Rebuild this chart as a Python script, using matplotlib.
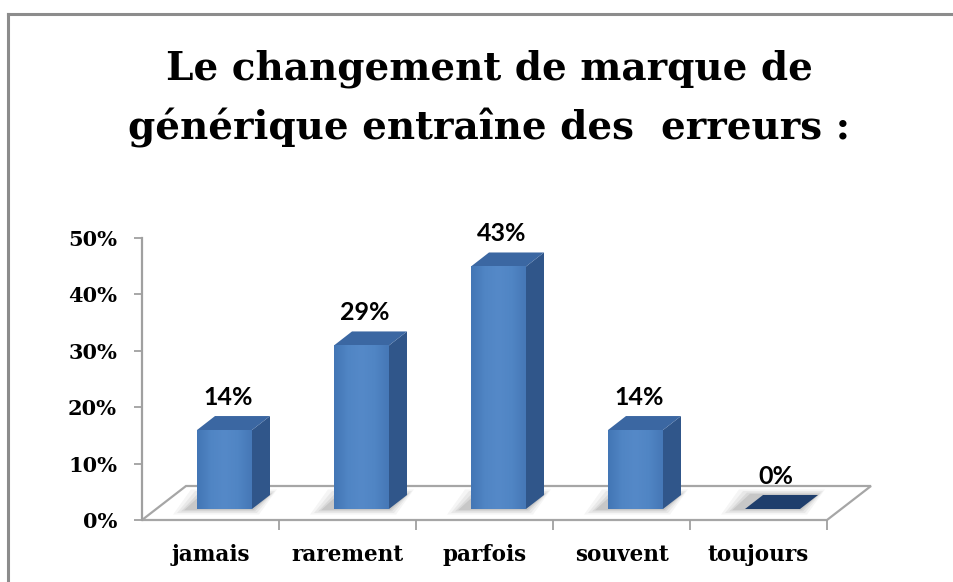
import matplotlib
matplotlib.use("Agg")
import numpy as np
import matplotlib.pyplot as plt
from matplotlib.patches import Polygon
from matplotlib.lines import Line2D
from matplotlib.colors import LinearSegmentedColormap

# Survey answers and their shares (percent)
categories = ["jamais", "rarement", "parfois", "souvent", "toujours"]
shares = [14, 29, 43, 14, 0]
value_labels = ["14%", "29%", "43%", "14%", "0%"]
y_ticks = [0, 10, 20, 30, 40, 50]
y_tick_labels = ["0%", "10%", "20%", "30%", "40%", "50%"]
title = "Le changement de marque de\ngénérique entraîne des  erreurs :"

W, H = 954, 582
fig = plt.figure(figsize=(W / 100, H / 100), dpi=100)
fig.patch.set_facecolor("white")

# chart frame (left and top edges)
fig.add_artist(Line2D([8 / W, 8 / W], [0, 1 - 14 / H], color="#8c8c8c", lw=2.2))
fig.add_artist(Line2D([8 / W, 1], [1 - 14 / H, 1 - 14 / H], color="#8c8c8c", lw=2.2))

# two-line title, one baseline per line
for line, base_y in zip(title.split("\n"), [80, 140]):
    fig.text(489 / W, 1 - base_y / H, line, ha="center", va="baseline",
             fontsize=28, fontweight="bold", family="DejaVu Serif", color="black")

left_px, right_px, top_px, base_px = 142, 827, 238, 520
ax = fig.add_axes([left_px / W, (H - base_px) / H,
                   (right_px - left_px) / W, (base_px - top_px) / H])
ax.set_xlim(-0.5, len(categories) - 0.5)
ax.set_ylim(0, 50)
ax.set_facecolor("none")

# pixel -> data conversions for the oblique depth
px_x = (len(categories)) / (right_px - left_px)
px_y = 50 / (base_px - top_px)

floor_dx, floor_dy = 44 * px_x, 34 * px_y
bar_off_x, bar_off_y = 14 * px_x, 11 * px_y
bar_dx, bar_dy = 18 * px_x, 14 * px_y
bar_w = 55 * px_x

x0, x1 = -0.5, len(categories) - 0.5
floor = Polygon([(x0, 0), (x1, 0), (x1 + floor_dx, floor_dy), (x0 + floor_dx, floor_dy)],
                closed=True, facecolor="white", edgecolor="#a6a6a6", lw=1.6,
                clip_on=False, zorder=1)
ax.add_patch(floor)

front_c = "#4a7ebb"
side_c = "#30568a"
top_c = "#3b67a2"
zero_c = "#1f3e6c"
face_cmap = LinearSegmentedColormap.from_list(
    "face", ["#4376b5", "#5085c4", "#5589c8", "#5085c4", "#4678b7"])
grad = np.linspace(0, 1, 64).reshape(1, -1)

for i, v in enumerate(shares):
    xl = i - bar_w / 2 + bar_off_x
    xr = i + bar_w / 2 + bar_off_x
    yb = bar_off_y
    yt = bar_off_y + v
    # soft shadow on the floor, cast towards the left
    for k, a in zip([14, 10, 6, 3], [0.06, 0.08, 0.10, 0.14]):
        ex, ey = k * px_x, k * 0.4 * px_y
        sh = Polygon([(xl - ex - 10 * px_x, yb - ey), (xr + ex * 0.5, yb - ey),
                      (xr + bar_dx + ex * 0.5, yb + bar_dy + ey), (xl + bar_dx - ex - 10 * px_x, yb + bar_dy + ey)],
                     closed=True, facecolor="#5a5a5a", edgecolor="none", alpha=a,
                     clip_on=False, zorder=2)
        ax.add_patch(sh)
    if v > 0:
        bars = ax.bar(i + bar_off_x, v, width=bar_w, bottom=yb, color=front_c,
                      edgecolor="none", zorder=4, clip_on=False)
        im = ax.imshow(grad, cmap=face_cmap, aspect="auto", extent=(xl, xr, yb, yt),
                       zorder=4.5, interpolation="bilinear")
        im.set_clip_path(bars[0])
        side = Polygon([(xr, yb), (xr + bar_dx, yb + bar_dy),
                        (xr + bar_dx, yt + bar_dy), (xr, yt)],
                       closed=True, facecolor=side_c, edgecolor="none",
                       clip_on=False, zorder=3)
        top = Polygon([(xl, yt), (xr, yt), (xr + bar_dx, yt + bar_dy), (xl + bar_dx, yt + bar_dy)],
                      closed=True, facecolor=top_c, edgecolor="none",
                      clip_on=False, zorder=4)
        ax.add_patch(side)
        ax.add_patch(top)
    else:
        top = Polygon([(xl, yt), (xr, yt), (xr + bar_dx, yt + bar_dy), (xl + bar_dx, yt + bar_dy)],
                      closed=True, facecolor=zero_c, edgecolor="none",
                      clip_on=False, zorder=4)
        ax.add_patch(top)
    ax.text(i + bar_off_x + bar_dx * 0.2, yt + bar_dy + 7 * px_y, value_labels[i],
            ha="center", va="bottom", fontsize=18, fontweight="bold",
            family="Lato", color="black", zorder=6, clip_on=False)

# imshow resets limits; restore them
ax.set_xlim(-0.5, len(categories) - 0.5)
ax.set_ylim(0, 50)

# axes styling
for s in ["top", "right", "bottom"]:
    ax.spines[s].set_visible(False)
ax.spines["left"].set_color("#a0a0a0")
ax.spines["left"].set_linewidth(1.6)
ax.set_yticks(y_ticks)
ax.set_yticklabels(y_tick_labels)
ax.tick_params(axis="y", length=6, width=1.3, color="#a0a0a0", pad=12,
               labelsize=15)
for t in ax.get_yticklabels():
    t.set_fontweight("bold")
    t.set_family("DejaVu Serif")

ax.set_xticks(range(len(categories)))
ax.set_xticklabels(categories)
ax.set_xticks([k + 0.5 for k in range(len(categories))], minor=True)
ax.tick_params(axis="x", which="major", length=0, pad=17, labelsize=15.5)
ax.tick_params(axis="x", which="minor", length=7, width=1.3, color="#a0a0a0")
for t in ax.get_xticklabels():
    t.set_fontweight("bold")
    t.set_family("DejaVu Serif")

fig.savefig("out.png", dpi=100, facecolor="white")
